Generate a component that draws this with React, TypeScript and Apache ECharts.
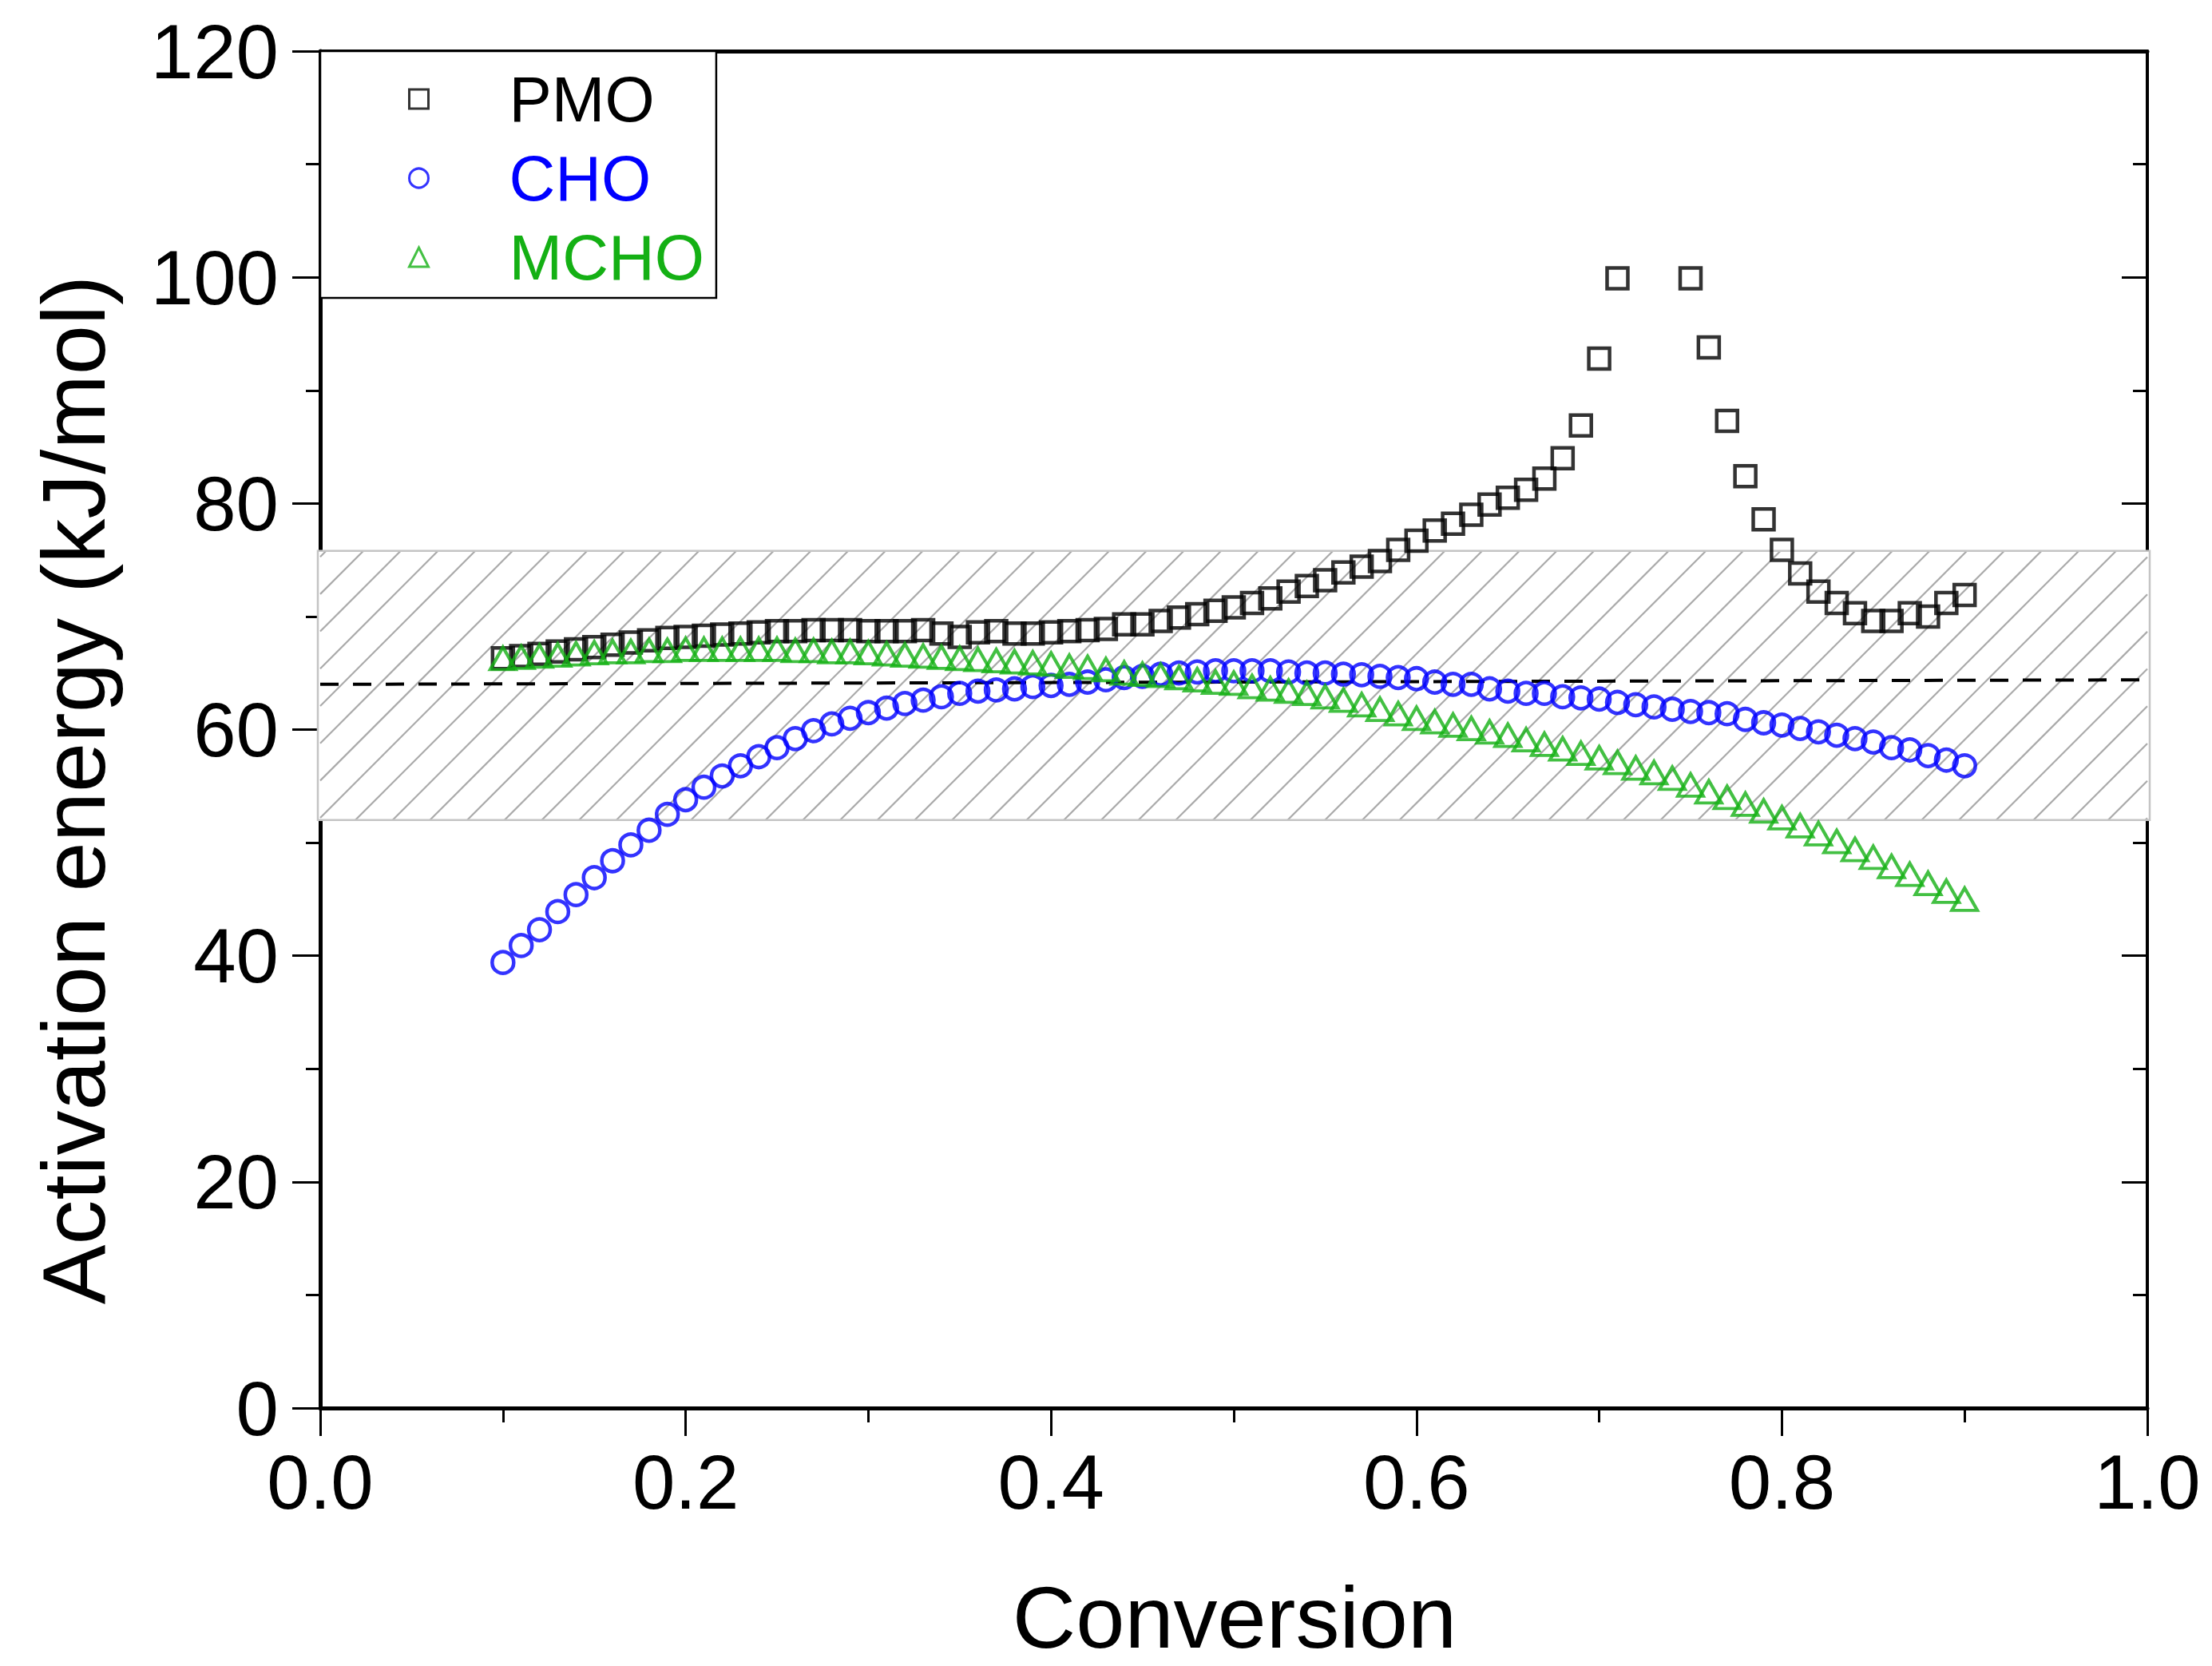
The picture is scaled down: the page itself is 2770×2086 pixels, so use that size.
import React, { useEffect, useRef } from "react";
import * as echarts from "echarts";

// conversion steps (x values)
const conversion = [
  0.1, 0.11, 0.12, 0.13, 0.14, 0.15, 0.16, 0.17, 0.18, 0.19,
  0.2, 0.21, 0.22, 0.23, 0.24, 0.25, 0.26, 0.27, 0.28, 0.29,
  0.3, 0.31, 0.32, 0.33, 0.34, 0.35, 0.36, 0.37, 0.38, 0.39,
  0.4, 0.41, 0.42, 0.43, 0.44, 0.45, 0.46, 0.47, 0.48, 0.49,
  0.5, 0.51, 0.52, 0.53, 0.54, 0.55, 0.56, 0.57, 0.58, 0.59,
  0.6, 0.61, 0.62, 0.63, 0.64, 0.65, 0.66, 0.67, 0.68, 0.69,
  0.7, 0.71, 0.72, 0.73, 0.74, 0.75, 0.76, 0.77, 0.78, 0.79,
  0.8, 0.81, 0.82, 0.83, 0.84, 0.85, 0.86, 0.87, 0.88, 0.89,
  0.9,
];

// activation energy, kJ/mol
const pmo = [
  66.3, 66.5, 66.7, 66.9, 67.1, 67.3, 67.5, 67.7, 67.9, 68.1,
  68.2, 68.3, 68.4, 68.5, 68.6, 68.7, 68.7, 68.8, 68.8, 68.8,
  68.7, 68.7, 68.7, 68.8, 68.5, 68.2, 68.6, 68.7, 68.5, 68.5,
  68.6, 68.7, 68.8, 68.9, 69.3, 69.3, 69.6, 69.9, 70.2, 70.5,
  70.8, 71.2, 71.6, 72.2, 72.7, 73.2, 73.9, 74.4, 74.9, 75.9,
  76.7, 77.6, 78.2, 79.0, 79.9, 80.5, 81.2, 82.2, 84.0, 86.9,
  92.8, 99.9, null, null, null, 99.9, 93.8, 87.3, 82.4, 78.6,
  75.9, 73.8, 72.2, 71.2, 70.3, 69.6, 69.6, 70.3, 70.0, 71.2,
  71.9,
];

const cho = [
  39.4, 40.9, 42.3, 43.9, 45.4, 46.9, 48.4, 49.8, 51.1, 52.5,
  53.8, 54.9, 55.9, 56.8, 57.6, 58.4, 59.2, 59.9, 60.5, 61.0,
  61.5, 61.9, 62.3, 62.6, 62.9, 63.2, 63.4, 63.5, 63.6, 63.8,
  63.9, 64.0, 64.2, 64.4, 64.6, 64.7, 64.9, 65.0, 65.1, 65.2,
  65.2, 65.2, 65.2, 65.1, 65.0, 65.0, 64.9, 64.85, 64.7, 64.6,
  64.5, 64.2, 64.0, 64.0, 63.6, 63.4, 63.2, 63.2, 62.9, 62.8,
  62.7, 62.4, 62.2, 62.0, 61.8, 61.6, 61.5, 61.4, 60.9, 60.6,
  60.4, 60.1, 59.8, 59.5, 59.2, 58.9, 58.4, 58.2, 57.7, 57.3,
  56.8,
];

const mcho = [
  66.3, 66.4, 66.5, 66.6, 66.7, 66.8, 66.9, 66.9, 67.0, 67.0,
  67.1, 67.1, 67.1, 67.1, 67.1, 67.1, 67.0, 67.0, 66.9, 66.9,
  66.8, 66.7, 66.6, 66.5, 66.4, 66.3, 66.2, 66.1, 66.0, 65.9,
  65.8, 65.6, 65.5, 65.3, 65.0, 64.9, 64.8, 64.6, 64.4, 64.2,
  64.1, 63.8, 63.6, 63.4, 63.2, 62.9, 62.6, 62.2, 61.8, 61.4,
  61.0, 60.7, 60.4, 60.1, 59.8, 59.5, 59.1, 58.7, 58.3, 57.9,
  57.5, 57.1, 56.6, 56.2, 55.7, 55.1, 54.5, 54.0, 53.4, 52.8,
  52.2, 51.5, 50.8, 50.1, 49.4, 48.7, 47.9, 47.2, 46.4, 45.7,
  45.0,
];

// hatched band and dashed mean line
const bandRange = [52.0, 75.8];
const meanLine = [
  [0, 64.0],
  [1, 64.4],
];

const seriesNames = ["PMO", "CHO", "MCHO"];
const seriesColors = ["#000000", "#0000ff", "#14b014"];

const FONT = '"Liberation Sans", Arial, sans-serif';
const HATCH_GAP = 46.7;
const HATCH_PHASE = 44;

const toPairs = (ys: (number | null)[]) =>
  conversion
    .map((x, i) => [x, ys[i]])
    .filter((p) => p[1] !== null);

const App: React.FC = () => {
  const chartRef = useRef<HTMLDivElement>(null);

  useEffect(() => {
    if (!chartRef.current) return;
    document.body.style.margin = "0";

    const chart = echarts.init(chartRef.current, undefined, { renderer: "svg" });

    const tickStyle = { color: "#000", width: 3 };

    const option: any = {
      animation: false,
      backgroundColor: "#fff",
      grid: { left: 401, right: 81, top: 64, bottom: 323, containLabel: false },
      legend: {
        orient: "vertical",
        left: 401,
        top: 64,
        padding: [19, 15, 10, 110],
        itemGap: 17,
        itemWidth: 24,
        itemHeight: 24,
        borderColor: "#000",
        borderWidth: 2.5,
        backgroundColor: "#fff",
        selectedMode: false,
        itemStyle: { borderWidth: 3 },
        textStyle: { fontFamily: FONT, fontSize: 80, lineHeight: 82, padding: [0, 0, 0, 96] },
        data: seriesNames.map((n, i) => ({
          name: n,
          textStyle: { color: seriesColors[i] },
        })),
      },
      xAxis: [
        {
          type: "value",
          min: 0,
          max: 1,
          interval: 0.2,
          position: "bottom",
          axisLine: { show: true, onZero: false, lineStyle: { color: "#000", width: 5 } },
          axisTick: { show: true, length: 35, lineStyle: tickStyle },
          minorTick: { show: true, splitNumber: 2, length: 18, lineStyle: tickStyle },
          splitLine: { show: false },
          axisLabel: {
            margin: 44,
            color: "#000",
            fontFamily: FONT,
            fontSize: 96,
            formatter: (v: number) => v.toFixed(1),
          },
        },
        {
          type: "value",
          min: 0,
          max: 1,
          position: "top",
          axisLine: { show: true, onZero: false, lineStyle: { color: "#000", width: 5 } },
          axisTick: { show: false },
          axisLabel: { show: false },
          splitLine: { show: false },
        },
      ],
      yAxis: [
        {
          type: "value",
          min: 0,
          max: 120,
          interval: 20,
          position: "left",
          axisLine: { show: true, onZero: false, lineStyle: { color: "#000", width: 5 } },
          axisTick: { show: true, length: 35, lineStyle: tickStyle },
          minorTick: { show: true, splitNumber: 2, length: 18, lineStyle: tickStyle },
          splitLine: { show: false },
          axisLabel: { margin: 52, color: "#000", fontFamily: FONT, fontSize: 96 },
        },
        {
          type: "value",
          min: 0,
          max: 120,
          interval: 20,
          position: "right",
          axisLine: { show: true, onZero: false, lineStyle: { color: "#000", width: 4 } },
          axisTick: { show: true, inside: true, length: 32, lineStyle: tickStyle },
          minorTick: { show: true, splitNumber: 2, length: 18, lineStyle: tickStyle },
          axisLabel: { show: false },
          splitLine: { show: false },
        },
      ],
      graphic: [
        {
          type: "text",
          x: 92,
          y: 989,
          rotation: Math.PI / 2,
          style: {
            text: "Activation energy (kJ/mol)",
            font: `112px ${FONT}`,
            fill: "#000",
            textAlign: "center",
            textVerticalAlign: "middle",
          },
        },
        {
          type: "text",
          x: 1546,
          y: 2024,
          style: {
            text: "Conversion",
            font: `110px ${FONT}`,
            lineHeight: 100,
            fill: "#000",
            textAlign: "center",
            textVerticalAlign: "middle",
          },
        },
      ],
      series: [
        {
          type: "custom",
          name: "band",
          z: 1,
          silent: true,
          data: [[0, bandRange[0], 1, bandRange[1]]],
          encode: { x: [0, 2], y: [1, 3] },
          renderItem: (_params: any, api: any) => {
            const pTL = api.coord([api.value(0), api.value(3)]);
            const pBR = api.coord([api.value(2), api.value(1)]);
            const x0 = pTL[0];
            const y0 = pTL[1];
            const x1 = pBR[0];
            const y1 = pBR[1];
            const h = y1 - y0;
            const children: any[] = [
              {
                type: "rect",
                shape: { x: x0 - 3, y: y0, width: x1 - x0 + 6, height: h },
                style: { fill: "#fff", stroke: null },
              },
            ];
            const start = x0 + HATCH_PHASE - Math.ceil((h + HATCH_PHASE) / HATCH_GAP) * HATCH_GAP;
            for (let xb = start; xb < x1; xb += HATCH_GAP) {
              let sx = xb;
              let sy = y1;
              let ex = xb + h;
              let ey = y0;
              if (sx < x0) {
                sy = y1 - (x0 - sx);
                sx = x0;
              }
              if (ex > x1) {
                ey = y0 + (ex - x1);
                ex = x1;
              }
              if (ex <= sx) continue;
              children.push({
                type: "line",
                shape: { x1: sx, y1: sy, x2: ex, y2: ey },
                style: { stroke: "#aaaaaa", lineWidth: 2.2 },
              });
            }
            children.push({
              type: "rect",
              shape: { x: x0 - 3, y: y0, width: x1 - x0 + 6, height: h },
              style: { fill: null, stroke: "#c4c4c4", lineWidth: 2.5 },
            });
            return { type: "group", children };
          },
        },
        {
          type: "line",
          name: "mean",
          z: 2,
          silent: true,
          data: meanLine,
          symbol: "none",
          lineStyle: { color: "#000", width: 4, type: [23, 18] },
        },
        {
          type: "scatter",
          name: seriesNames[0],
          z: 3,
          data: toPairs(pmo),
          symbol: "rect",
          symbolSize: 26,
          itemStyle: { color: "rgba(255,255,255,0)", borderColor: seriesColors[0], borderWidth: 4.5 },
        },
        {
          type: "scatter",
          name: seriesNames[1],
          z: 3,
          data: toPairs(cho),
          symbol: "circle",
          symbolSize: 27,
          itemStyle: { color: "rgba(255,255,255,0)", borderColor: seriesColors[1], borderWidth: 4.5 },
        },
        {
          type: "scatter",
          name: seriesNames[2],
          z: 3,
          data: toPairs(mcho),
          symbol: "triangle",
          symbolSize: [32, 28],
          itemStyle: { color: "rgba(255,255,255,0)", borderColor: seriesColors[2], borderWidth: 4 },
        },
      ],
    };

    chart.setOption(option);

    return () => {
      chart.dispose();
    };
  }, []);

  return <div ref={chartRef} style={{ width: "2770px", height: "2086px" }} />;
};

export default App;
